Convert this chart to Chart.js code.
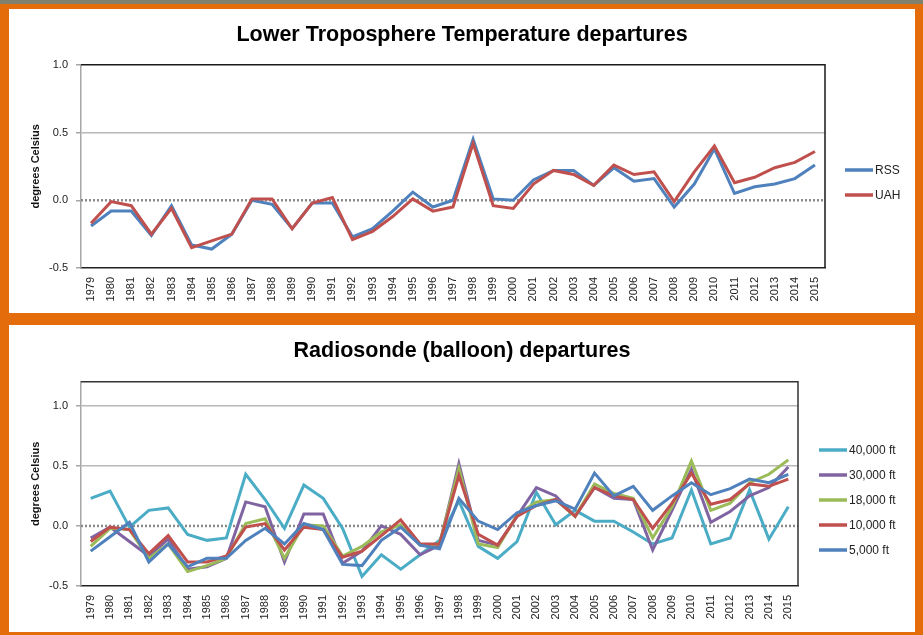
<!DOCTYPE html>
<html>
<head>
<meta charset="utf-8">
<script src="https://cdn.jsdelivr.net/npm/chart.js@4.4.1/dist/chart.umd.min.js"></script>
<style>
  html, body { margin: 0; padding: 0; }
  body { width: 923px; height: 635px; background: #e46c0a; position: relative; overflow: hidden; }
  #strip { position: absolute; left: 0; top: 0; width: 923px; height: 4px; background: #7f816d; }
  .panel { position: absolute; left: 9px; width: 906px; background: #fff; }
  #p1 { top: 9px; height: 304px; }
  #p2 { top: 325px; height: 307px; }
</style>
</head>
<body>
<div id="strip"></div>
<div class="panel" id="p1"><canvas id="satChart" width="906" height="304"></canvas></div>
<div class="panel" id="p2"><canvas id="balloonChart" width="906" height="307"></canvas></div>
<script>
// Year labels along the x axis
const years = ["1979", "1980", "1981", "1982", "1983", "1984", "1985", "1986", "1987", "1988",
  "1989", "1990", "1991", "1992", "1993", "1994", "1995", "1996", "1997", "1998",
  "1999", "2000", "2001", "2002", "2003", "2004", "2005", "2006", "2007", "2008",
  "2009", "2010", "2011", "2012", "2013", "2014", "2015"];

// Satellite series (deg C)
const rss = [-0.19, -0.08, -0.08, -0.26, -0.04, -0.33, -0.36, -0.25, 0.00, -0.03, -0.21, -0.02, -0.02, -0.27, -0.21, -0.08, 0.06, -0.05, 0.00,
  0.45, 0.01, 0.00, 0.15, 0.22, 0.22, 0.11, 0.24, 0.14, 0.16, -0.05, 0.12, 0.38, 0.05, 0.10, 0.12, 0.16, 0.26];
const uah = [-0.17, -0.01, -0.04, -0.25, -0.06, -0.35, -0.30, -0.25, 0.01, 0.01, -0.21, -0.02, 0.02, -0.29, -0.23, -0.12, 0.01, -0.08, -0.05,
  0.42, -0.04, -0.06, 0.12, 0.22, 0.19, 0.11, 0.26, 0.19, 0.21, -0.01, 0.21, 0.40, 0.13, 0.17, 0.24, 0.28, 0.36];

// Radiosonde series (deg C)
const ft40k = [0.23, 0.29, -0.01, 0.13, 0.15, -0.07, -0.12, -0.10, 0.43, 0.22, -0.02, 0.34, 0.23, -0.02, -0.42, -0.24, -0.36, -0.24, -0.12,
  0.21, -0.17, -0.27, -0.13, 0.28, 0.01, 0.13, 0.04, 0.04, -0.05, -0.15, -0.10, 0.30, -0.15, -0.10, 0.30, -0.11, 0.16];
const ft30k = [-0.10, -0.01, -0.13, -0.25, -0.11, -0.36, -0.34, -0.27, 0.20, 0.16, -0.30, 0.10, 0.10, -0.31, -0.21, 0.00, -0.07, -0.24, -0.16,
  0.52, -0.12, -0.16, 0.08, 0.32, 0.25, 0.08, 0.32, 0.23, 0.22, -0.20, 0.13, 0.47, 0.03, 0.12, 0.25, 0.32, 0.49];
const ft18k = [-0.17, -0.02, -0.03, -0.27, -0.15, -0.38, -0.33, -0.27, 0.02, 0.06, -0.27, 0.01, 0.00, -0.25, -0.17, -0.05, 0.01, -0.16, -0.15,
  0.48, -0.15, -0.18, 0.09, 0.20, 0.22, 0.08, 0.35, 0.27, 0.23, -0.10, 0.16, 0.54, 0.13, 0.19, 0.36, 0.43, 0.55];
const ft10k = [-0.13, -0.01, -0.03, -0.23, -0.08, -0.30, -0.30, -0.25, -0.01, 0.02, -0.20, -0.01, -0.03, -0.26, -0.21, -0.08, 0.05, -0.15, -0.15,
  0.42, -0.07, -0.16, 0.08, 0.17, 0.22, 0.08, 0.32, 0.25, 0.22, -0.02, 0.19, 0.44, 0.18, 0.22, 0.35, 0.33, 0.39];
const ft5k = [-0.21, -0.09, 0.03, -0.30, -0.15, -0.34, -0.27, -0.27, -0.12, -0.02, -0.15, 0.02, -0.03, -0.32, -0.33, -0.12, -0.01, -0.16, -0.19,
  0.23, 0.04, -0.03, 0.11, 0.17, 0.21, 0.14, 0.44, 0.25, 0.33, 0.13, 0.25, 0.36, 0.26, 0.31, 0.39, 0.36, 0.43];

const FONT = "'Liberation Sans', Arial, sans-serif";
Chart.defaults.font.family = FONT;
Chart.defaults.color = "#222";

// dotted zero line, plot frame and a simple line-sample legend on the right
const extras = {
  id: "extras",
  beforeDatasetsDraw(chart) {
    const { ctx, chartArea: a, scales } = chart;
    const y0 = scales.y.getPixelForValue(0);
    ctx.save();
    ctx.strokeStyle = "#8a8a8a";
    ctx.lineWidth = 2.5;
    ctx.setLineDash([2, 2]);
    ctx.beginPath();
    ctx.moveTo(a.left, y0);
    ctx.lineTo(a.right, y0);
    ctx.stroke();
    ctx.restore();
  },
  afterDraw(chart, args, opts) {
    const { ctx, chartArea: a } = chart;
    ctx.save();
    ctx.strokeStyle = opts.frameColor;
    ctx.lineWidth = 1.5;
    ctx.beginPath();
    ctx.moveTo(a.left, a.top);
    ctx.lineTo(a.right, a.top);
    ctx.lineTo(a.right, a.bottom);
    ctx.stroke();

    ctx.font = "12px " + FONT;
    ctx.textBaseline = "middle";
    ctx.fillStyle = "#222";
    chart.data.datasets.forEach((ds, i) => {
      const y = opts.y + i * opts.gap;
      ctx.strokeStyle = ds.borderColor;
      ctx.lineWidth = 3.5;
      ctx.beginPath();
      ctx.moveTo(opts.x, y);
      ctx.lineTo(opts.x + 28, y);
      ctx.stroke();
      ctx.fillText(ds.label, opts.x + 30, y + 1);
    });
    ctx.restore();
  }
};

function yAxis(max) {
  return {
    min: -0.5,
    max: max,
    afterBuildTicks: s => { s.ticks = s.ticks.filter(t => t.value <= 1.0001); },
    afterFit: s => { s.width = 72; },
    ticks: { stepSize: 0.5, padding: 8, font: { size: 11 }, callback: v => v.toFixed(1) },
    grid: {
      color: c => (c.tick && c.tick.value > 0.1 && c.tick.value < 1.05 && max > 1.05) || (c.tick && Math.abs(c.tick.value - 0.5) < 0.01) ? "#b8b8b8" : "rgba(0,0,0,0)",
      lineWidth: 1.5,
      tickColor: "#a6a6a6",
      tickLength: 5
    },
    border: { color: "#a6a6a6", width: 1.5 },
    title: {
      display: true,
      text: "degrees Celsius",
      font: { size: 11, weight: "bold" },
      color: "#111",
      padding: { top: 20 }
    }
  };
}

// empty axis on the right that only reserves room for the legend
function spacer(w) {
  return {
    position: "right",
    afterFit: s => { s.width = w; },
    grid: { display: false, drawTicks: false },
    border: { display: false },
    ticks: { display: false }
  };
}

function xAxis(h) {
  return {
    offset: true,
    afterFit: s => { s.height = h; },
    grid: { display: false, drawTicks: false },
    border: { color: "#222", width: 1.5 },
    ticks: { autoSkip: false, minRotation: 90, maxRotation: 90, padding: 9, font: { size: 11 } }
  };
}

function lineSet(label, data, color, order) {
  return { label, data, borderColor: color, backgroundColor: color, borderWidth: 3, pointRadius: 0, tension: 0, order };
}

new Chart(document.getElementById("satChart").getContext("2d"), {
  type: "line",
  data: {
    labels: years,
    datasets: [
      lineSet("RSS", rss, "#4f81bd", 2),
      lineSet("UAH", uah, "#c0504d", 1)
    ]
  },
  options: {
    responsive: false,
    animation: false,
    layout: { padding: 0 },
    scales: { x: xAxis(45), y: yAxis(1.0), pad: spacer(90) },
    plugins: {
      legend: { display: false },
      tooltip: { enabled: false },
      title: {
        display: true,
        text: "Lower Troposphere Temperature departures",
        font: { size: 21.5, weight: "bold" },
        color: "#000",
        padding: { top: 13, bottom: 17 }
      },
      extras: { frameColor: "#1a1a1a", x: 836, y: 161, gap: 25 }
    }
  },
  plugins: [extras]
});

new Chart(document.getElementById("balloonChart").getContext("2d"), {
  type: "line",
  data: {
    labels: years,
    datasets: [
      lineSet("40,000 ft", ft40k, "#4bacc6", 5),
      lineSet("30,000 ft", ft30k, "#8064a2", 4),
      lineSet("18,000 ft", ft18k, "#9bbb59", 3),
      lineSet("10,000 ft", ft10k, "#c0504d", 2),
      lineSet("5,000 ft", ft5k, "#4f81bd", 1)
    ]
  },
  options: {
    responsive: false,
    animation: false,
    layout: { padding: 0 },
    scales: { x: xAxis(46), y: yAxis(1.2), pad: spacer(117) },
    plugins: {
      legend: { display: false },
      tooltip: { enabled: false },
      title: {
        display: true,
        text: "Radiosonde (balloon) departures",
        font: { size: 21.5, weight: "bold" },
        color: "#000",
        padding: { top: 13, bottom: 18 }
      },
      extras: { frameColor: "#333", x: 810, y: 125, gap: 25 }
    }
  },
  plugins: [extras]
});
</script>
</body>
</html>
